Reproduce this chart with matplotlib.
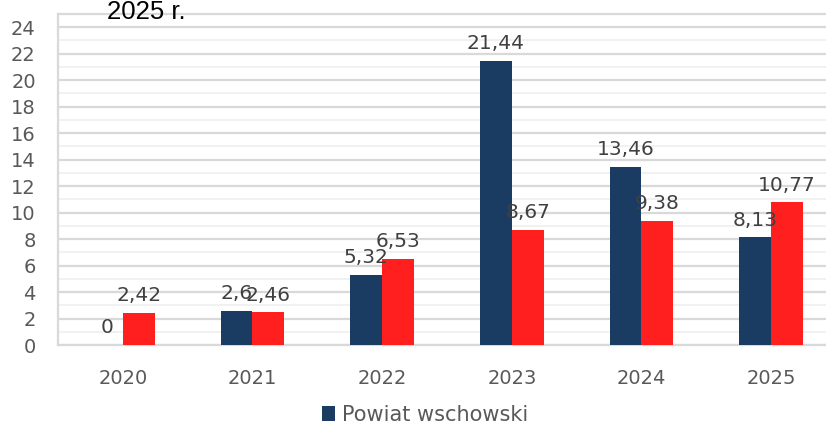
import matplotlib
matplotlib.use('Agg')
import matplotlib.pyplot as plt
import numpy as np

years = ['2020', '2021', '2022', '2023', '2024', '2025']
powiat = [0, 2.6, 5.32, 21.44, 13.46, 8.13]
second = [2.42, 2.46, 6.53, 8.67, 9.38, 10.77]
legend_label = 'Powiat wschowski'
title = '2025 r.'

navy = '#1a3c63'
red = '#ff1f1f'

plt.rcParams['font.family'] = ['DejaVu Sans']

fig = plt.figure(figsize=(8.26, 4.23), dpi=100)
ax = fig.add_axes([58 / 826, 78 / 423, 778 / 826, 331 / 423])

x = np.arange(len(years))
w = 0.245
b1 = ax.bar(x - w / 2, powiat, w, color=navy, zorder=3)
b2 = ax.bar(x + w / 2, second, w, color=red, zorder=3)


def fmt(v):
    s = ('%.2f' % v).rstrip('0').rstrip('.')
    return s.replace('.', ',')


for bars, vals in ((b1, powiat), (b2, second)):
    for rect, v in zip(bars, vals):
        ax.annotate(fmt(v), (rect.get_x() + rect.get_width() / 2, v),
                    xytext=(0, 8.5), textcoords='offset points',
                    ha='center', va='baseline', fontsize=14.5, color='#404040', zorder=4)

ax.set_xlim(-0.5, 5.5)
ax.set_ylim(0, 25)
ax.set_yticks(range(0, 25, 2))
ax.set_yticks(range(1, 25, 2), minor=True)
ax.set_xticks(x)
ax.set_xticklabels(years)
ax.tick_params(axis='both', which='both', length=0, labelsize=14, colors='#595959')
ax.tick_params(axis='y', pad=16)
ax.tick_params(axis='x', pad=17)
ax.grid(axis='y', which='major', color='#d9d9d9', lw=1.6, zorder=0)
ax.grid(axis='y', which='minor', color='#f0f0f0', lw=1.3, zorder=0)
for s in ('left', 'bottom', 'top'):
    ax.spines[s].set_color('#d9d9d9')
    ax.spines[s].set_linewidth(1.6)
ax.spines['right'].set_visible(False)

fig.text(107 / 826, 1 - 19 / 423, title, fontsize=18.5, family='Liberation Sans',
         va='baseline', ha='left', color='black')

fig.legend(handles=[b1], labels=[legend_label], loc='center left',
           bbox_to_anchor=(322 / 826, 1 - 415 / 423), frameon=False,
           fontsize=15, handlelength=0.6, handleheight=0.7,
           handletextpad=0.35, borderpad=0, borderaxespad=0, labelcolor='#595959')

fig.savefig('out.png', dpi=100)
